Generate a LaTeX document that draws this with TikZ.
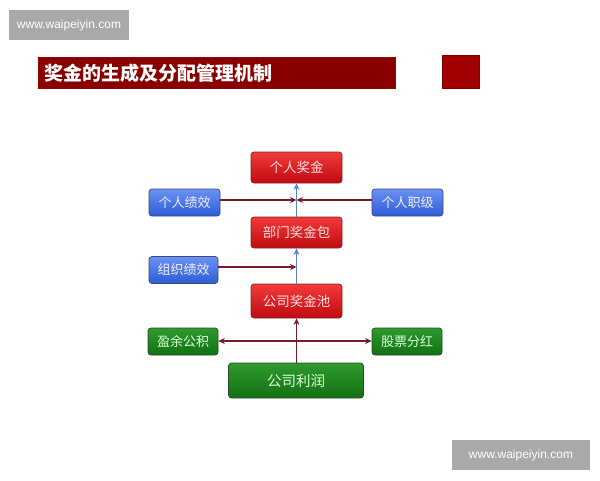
\documentclass[tikz,border=0pt]{standalone}
\usepackage{fontspec}
\setmainfont{Liberation Sans}
\newfontfamily\cjk{Noto Sans CJK SC}
\usetikzlibrary{arrows.meta}
\definecolor{titlered}{HTML}{890000}
\definecolor{sqred}{HTML}{A00000}
\definecolor{linered}{HTML}{7A1A28}
\definecolor{lineblue}{HTML}{5A82C8}
\definecolor{wmgray}{HTML}{A9A9A9}
\definecolor{redtop}{HTML}{F23A3A}
\definecolor{redbot}{HTML}{C00A10}
\definecolor{redline}{HTML}{7A2A2A}
\definecolor{bluetop}{HTML}{6A92F4}
\definecolor{bluebot}{HTML}{2E5CD6}
\definecolor{blueline}{HTML}{3C4A78}
\definecolor{greentop}{HTML}{2E9A2E}
\definecolor{greenbot}{HTML}{127012}
\definecolor{greenline}{HTML}{2A4A2A}
\tikzset{
  box/.style={rounded corners=3pt, draw, line width=0.7pt, align=center, inner sep=0pt, font=\cjk\fontsize{13}{15}\selectfont},
  redbox/.style={box, draw=redline, top color=redtop, bottom color=redbot, text=red!12!white, font=\cjk\fontsize{13.5}{15}\selectfont},
  bluebox/.style={box, draw=blueline, top color=bluetop, bottom color=bluebot, text=blue!6!white},
  greenbox/.style={box, draw=greenline, top color=greentop, bottom color=greenbot, text=green!15!white},
  redarrow/.style={draw=linered, line width=1.2pt, -{Stealth[length=6.5pt,width=6pt]}},
  bluearrow/.style={draw=lineblue, line width=1.2pt, -{Stealth[length=6.5pt,width=6pt]}},
  wm/.style={fill=wmgray, text=white, inner sep=0pt, font=\fontsize{12}{14}\selectfont}
}
\begin{document}
\begin{tikzpicture}[x=1pt,y=-1pt]
\useasboundingbox (0,0) rectangle (600,480);
\fill[white] (0,0) rectangle (600,480);
% watermarks
\node[wm, minimum width=120pt, minimum height=30pt] (wm1) at (69,25) {www.waipeiyin.com};
\node[wm, minimum width=138pt, minimum height=30pt] (wm2) at (521,455) {www.waipeiyin.com};
% title
\node[fill=titlered, draw=red!60!black, line width=0.4pt, minimum width=357pt, minimum height=31pt, inner sep=0pt] (title) at (216.5,72.5) {};
\node[anchor=west, text=white, inner sep=0pt, font=\cjk\bfseries\fontsize{19}{21}\selectfont] (titletext) at (44,73) {奖金的生成及分配管理机制};
\node[fill=sqred, draw=red!50!black, line width=0.4pt, minimum width=37pt, minimum height=33pt, inner sep=0pt] (sq) at (460.5,71.5) {};
% nodes
\node[redbox, minimum width=91pt, minimum height=31pt] (grjj) at (296.5,167.5) {个人奖金};
\node[redbox, minimum width=91pt, minimum height=31pt] (bmjjb) at (296.5,232.5) {部门奖金包};
\node[redbox, minimum width=91pt, minimum height=34pt] (gsjjc) at (296.5,301) {公司奖金池};
\node[bluebox, minimum width=71pt, minimum height=27pt] (grjx) at (184.5,202.5) {个人绩效};
\node[bluebox, minimum width=71pt, minimum height=27pt] (grzj) at (407.5,202.5) {个人职级};
\node[bluebox, minimum width=69pt, minimum height=27pt] (zzjx) at (183.5,270) {组织绩效};
\node[greenbox, minimum width=70pt, minimum height=27pt] (yygj) at (183,341.5) {盈余公积};
\node[greenbox, minimum width=70pt, minimum height=27pt] (gpfh) at (407,341.5) {股票分红};
\node[greenbox, minimum width=135pt, minimum height=35pt, font=\cjk\fontsize{14.5}{16}\selectfont] (gslr) at (296,380.5) {公司利润};
% junction points
\coordinate (j1) at (296.5,200);
\coordinate (j2) at (296.5,267);
\coordinate (j3) at (296.5,341);
% connectors
\draw[bluearrow] (bmjjb.north) -- (grjj.south);
\draw[bluearrow] (gsjjc.north) -- (bmjjb.south);
\draw[redarrow] (gsjjc.south |- gslr.north) -- (gsjjc.south);
\draw[redarrow] (grjx.east |- j1) -- (j1);
\draw[redarrow] (grzj.west |- j1) -- (j1);
\draw[redarrow] (zzjx.east |- j2) -- (j2);
\draw[redarrow] (j3) -- (yygj.east |- j3);
\draw[redarrow] (j3) -- (gpfh.west |- j3);
\end{tikzpicture}
\end{document}
